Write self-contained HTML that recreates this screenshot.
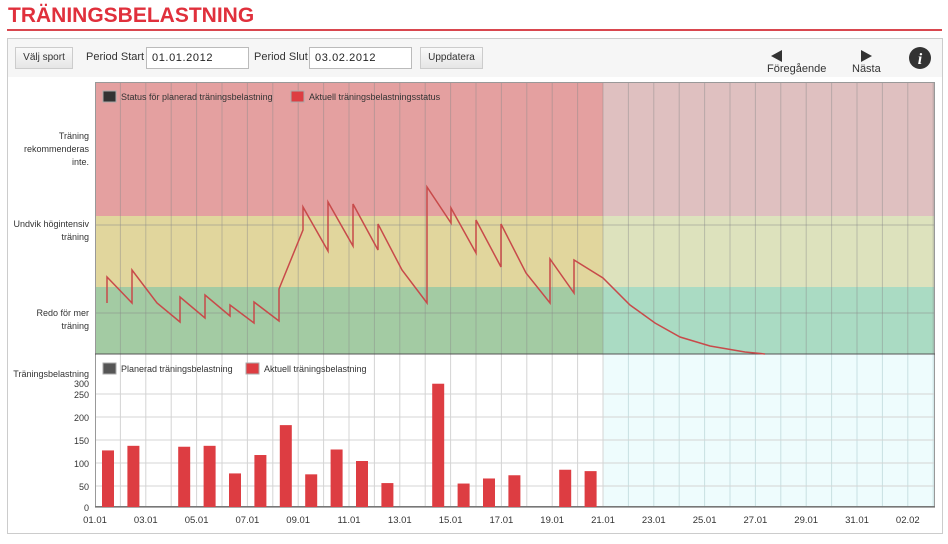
<!DOCTYPE html>
<html><head><meta charset="utf-8"><style>
body{margin:0;width:948px;height:544px;background:#fff;font-family:"Liberation Sans",sans-serif;overflow:hidden;position:relative}
*{box-sizing:border-box}
.t{position:absolute;left:8px;top:4px;font-size:21px;font-weight:bold;color:#e0303c}
.rule{position:absolute;left:7px;top:29px;width:935px;height:2px;background:#d9474f}
.box{position:absolute;left:7px;top:38px;width:936px;height:496px;border:1px solid #ccc;background:#fff}
.bar{position:absolute;left:8px;top:39px;width:934px;height:38px;background:#f6f6f6}
.btn{position:absolute;top:47px;height:22px;border:1px solid #ccc;background:linear-gradient(#fafafa,#e6e6e6);font-size:10px;line-height:20px;text-align:center;color:#333}
.inp{position:absolute;top:47px;height:22px;border:1px solid #bbb;background:#fff;font-size:11px;line-height:20px;padding-left:5px;color:#222;letter-spacing:.6px}
.lb{position:absolute;top:51px;font-size:11px;color:#333}
.s{font-size:11px;color:#333;position:absolute}
</style></head><body>
<div class="t">TRÄNINGSBELASTNING</div><div class="rule"></div>
<div class="box"></div><div class="bar"></div>
<div class="btn" style="left:15px;width:58px">Välj sport</div>
<div class="lb" style="left:86px">Period Start</div>
<div class="inp" style="left:146px;width:103px">01.01.2012</div>
<div class="lb" style="left:254px">Period Slut</div>
<div class="inp" style="left:309px;width:103px">03.02.2012</div>
<div class="btn" style="left:420px;width:63px">Uppdatera</div>
<div class="s" style="left:767px;top:63px">Föregående</div>
<div class="s" style="left:852px;top:63px">Nästa</div>
<svg style="position:absolute;left:0;top:0" width="948" height="544">
<polygon points="771,56 782,50 782,62" fill="#333"/><polygon points="861,50 872,56 861,62" fill="#333"/>
<circle cx="920" cy="58" r="11" fill="#333"/><text x="920" y="64" text-anchor="middle" font-family="Liberation Serif" font-style="italic" font-weight="bold" font-size="16" fill="#fff">i</text>
<rect x="95" y="82" width="508" height="134" fill="#e4a0a0"/>
<rect x="95" y="216" width="508" height="71" fill="#e1d69d"/>
<rect x="95" y="287" width="508" height="67" fill="#a3cba3"/>
<rect x="603" y="82" width="332" height="134" fill="#dfc0c0"/>
<rect x="603" y="216" width="332" height="71" fill="#dde2bd"/>
<rect x="603" y="287" width="332" height="67" fill="#aadbc3"/>
<rect x="603" y="354" width="332" height="153" fill="#eefcfd"/>
<g id="vg" stroke="#8a8a8a" stroke-opacity=".45" stroke-width="1"></g>
<g stroke="#888" stroke-opacity=".5"><line x1="95" y1="225" x2="935" y2="225"/><line x1="95" y1="313" x2="935" y2="313"/></g>
<g stroke="#d4d4d4" id="hg"></g>
<rect x="95.5" y="82.5" width="839" height="424" fill="none" stroke="#999"/>
<line x1="95" y1="354" x2="935" y2="354" stroke="#555"/>
<line x1="95" y1="507" x2="935" y2="507" stroke="#555"/>
<g id="bars" fill="#dd3d42"></g>
<polyline fill="none" stroke="#c84a4a" stroke-width="1.5" points="107,303 107,277 132,303 132,270 157,303 180,322 180,297 205,318 205,295 230,316 230,305 254,323 254,302 279,321 279,289 303,230 303,207 328,251 328,202 353,246 353,204 378,250 378,224 402,270 427,303 427,187 451,223 451,208 476,253 476,220 501,267 501,224 526,273 550,303 550,259 574,293 574,260 603,278 630,305 655,323 680,337 710,346 745,352 765,354"/>
<rect x="103" y="91" width="13" height="11" fill="#333" stroke="#aaa"/><text x="121" y="100" font-size="9" fill="#333">Status för planerad träningsbelastning</text>
<rect x="291" y="91" width="13" height="11" fill="#dd3d42" stroke="#aaa"/><text x="309" y="100" font-size="9" fill="#333">Aktuell träningsbelastningsstatus</text>
<rect x="103" y="363" width="13" height="11" fill="#555" stroke="#aaa"/><text x="121" y="372" font-size="9" fill="#333">Planerad träningsbelastning</text>
<rect x="246" y="363" width="13" height="11" fill="#dd3d42" stroke="#aaa"/><text x="264" y="372" font-size="9" fill="#333">Aktuell träningsbelastning</text>
<g font-size="9" fill="#333" text-anchor="end">
<text x="89" y="139">Träning</text><text x="89" y="152">rekommenderas</text><text x="89" y="165">inte.</text>
<text x="89" y="227">Undvik högintensiv</text><text x="89" y="240">träning</text>
<text x="89" y="316">Redo för mer</text><text x="89" y="329">träning</text>
<text x="89" y="377">Träningsbelastning</text>
<text x="89" y="387">300</text><text x="89" y="398">250</text><text x="89" y="421">200</text><text x="89" y="444">150</text><text x="89" y="467">100</text><text x="89" y="490">50</text><text x="89" y="511">0</text>
</g>
<g id="xl" font-size="9.5" fill="#333" text-anchor="middle"></g>
</svg>
<script>
var ns="http://www.w3.org/2000/svg";function el(p,t,a){var e=document.createElementNS(ns,t);for(var k in a)e.setAttribute(k,a[k]);document.getElementById(p).appendChild(e);return e}
var d=25.4;
for(var i=1;i<34;i++){var x=95+i*d;el('vg','line',{x1:x,y1:82,x2:x,y2:354});el('hg','line',{x1:x,y1:354,x2:x,y2:507,stroke:x>603?'#c8e0e2':'#d4d4d4'});}
[486,463,440,417,394].forEach(function(y){el('hg','line',{x1:95,y1:y,x2:935,y2:y});});
var v=[123,133,0,131,133,73,113,178,71,125,100,52,0,268,51,62,69,0,81,78];
v.forEach(function(b,i){if(b>0)el('bars','rect',{x:95+i*d+7,y:507-b*0.46,width:12,height:b*0.46});});
var lab=['01.01','03.01','05.01','07.01','09.01','11.01','13.01','15.01','17.01','19.01','21.01','23.01','25.01','27.01','29.01','31.01','02.02'];
lab.forEach(function(t,i){el('xl','text',{x:95+i*2*d,y:523}).textContent=t;});
</script>
</body></html>
